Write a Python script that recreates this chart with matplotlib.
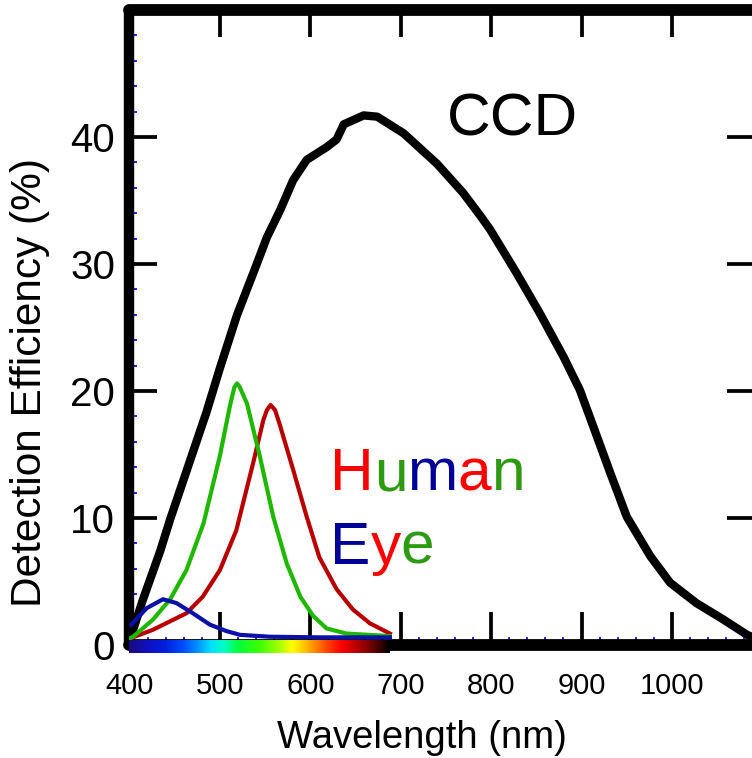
import numpy as np
import matplotlib
matplotlib.use("Agg")
import matplotlib.pyplot as plt
from matplotlib.colors import LinearSegmentedColormap

plt.rcParams['font.family'] = ['Liberation Sans', 'DejaVu Sans']

# ---------------- data ----------------
ccd_wl = [400, 404, 415, 434, 445, 485, 500, 519, 537, 552, 567, 581, 596,
          618, 629, 637, 659, 674, 703, 740, 769, 788, 799, 828, 854, 880, 898,
          913, 932, 950, 976, 998, 1027, 1057, 1083, 1100]
ccd_eff = [0.4, 1.2, 3.6, 7.4, 9.9, 18.3, 21.8, 26.0, 29.3, 32.1, 34.3, 36.6, 38.2,
           39.2, 39.8, 41.0, 41.7, 41.6, 40.3, 37.9, 35.6, 33.8, 32.7, 29.3, 26.1, 22.7, 20.1,
           17.2, 13.5, 10.1, 7.0, 4.9, 3.3, 2.0, 0.8, 0.3]

green_wl = [400, 404, 426, 445, 463, 482, 500, 511, 516, 519, 522, 530, 544, 559,
            574, 589, 603, 618, 640, 688]
green_eff = [0.5, 0.65, 2.0, 3.6, 5.9, 9.6, 14.9, 18.8, 20.3, 20.6, 20.3, 19.0, 14.9, 10.1,
             6.4, 3.8, 2.3, 1.3, 0.9, 0.7]

red_wl = [400, 426, 463, 481, 500, 518, 537, 548, 552, 556, 561, 566, 581, 596,
          610, 629, 647, 666, 688]
red_eff = [0.5, 1.2, 2.5, 3.8, 5.9, 9.0, 14.4, 17.7, 18.5, 18.9, 18.5, 17.4, 13.8, 10.1,
           6.9, 4.4, 2.8, 1.7, 0.9]

blue_wl = [402, 419, 437, 452, 470, 489, 507, 522, 555, 610, 688]
blue_eff = [1.6, 2.9, 3.6, 3.3, 2.5, 1.6, 1.1, 0.8, 0.65, 0.6, 0.6]

spectrum_wl = [400, 420, 440, 460, 475, 490, 505, 520, 545, 565, 580, 595, 607,
               620, 635, 650, 665, 680, 688]
spectrum_colors = ['#1a0a80', '#1010c0', '#0020e0', '#0050ff', '#0090ff', '#00e0ff',
                   '#00ffc0', '#00ff40', '#40ff00', '#a0ff00', '#ffff00', '#ffc000',
                   '#ff8000', '#ff4000', '#ff0000', '#c00000', '#800000', '#300000',
                   '#000000']

xticks = [400, 500, 600, 700, 800, 900, 1000]
yticks = [0, 10, 20, 30, 40]

# ---------------- figure ----------------
fig = plt.figure(figsize=(7.52, 7.58), dpi=100)
ax = fig.add_axes([0.1722, 0.1491, 0.8416, 0.8377])

# spectrum bar
smin, smax = spectrum_wl[0], spectrum_wl[-1]
stops = [((w - smin) / (smax - smin), c) for w, c in zip(spectrum_wl, spectrum_colors)]
cmap = LinearSegmentedColormap.from_list('spec', stops)
grad = np.linspace(0, 1, 400)[None, :]
ax.imshow(grad, extent=[smin, smax, -0.63, 0.39], aspect='auto', cmap=cmap,
          clip_on=False, zorder=4, interpolation='bilinear')

ax.plot(ccd_wl, ccd_eff, color='black', lw=6, solid_capstyle='round',
        solid_joinstyle='round', zorder=3)
ax.plot(red_wl, red_eff, color='#b80000', lw=3, zorder=3,
        solid_joinstyle='round')
ax.plot(green_wl, green_eff, color='#1fb800', lw=3, zorder=3,
        solid_joinstyle='round')
ax.plot(blue_wl, blue_eff, color='#0a10a8', lw=3, zorder=3,
        solid_joinstyle='round')

ax.set_xlim(400, 1100)
ax.set_ylim(0, 50)

ax.set_xticks(xticks)
ax.set_yticks(yticks)
ax.set_xticks(np.arange(420, 1100, 20), minor=True)
ax.set_yticks(np.arange(2, 50, 2), minor=True)

ax.tick_params(axis='both', which='both', direction='in', top=False, right=False)
ax.tick_params(axis='y', which='major', length=19.8, width=2.7, color='black',
               labelsize=29, pad=10.4)
ax.tick_params(axis='x', which='major', length=23.8, width=2.7, color='black',
               labelsize=21, pad=19.5)
ax.tick_params(axis='both', which='minor', length=6, width=1.2, color='blue')

for side in ['left', 'top', 'bottom', 'right']:
    ax.spines[side].set_color('black')
    ax.spines[side].set_capstyle('round')
ax.spines['left'].set_linewidth(7.5)
ax.spines['top'].set_linewidth(8.5)
ax.spines['bottom'].set_linewidth(8.5)
ax.spines['right'].set_linewidth(8.5)

# top ticks
ax_t = ax.twiny()
ax_t.set_xlim(400, 1100)
ax_t.set_xticks([500, 600, 700, 800, 900, 1000])
ax_t.tick_params(axis='x', which='major', direction='in', length=19.4, width=2.7,
                 labeltop=False, top=True, bottom=False)
for sp in ax_t.spines.values():
    sp.set_visible(False)
ax_t.patch.set_visible(False)

# right ticks
ax_r = ax.twinx()
ax_r.set_ylim(0, 50)
ax_r.set_yticks([10, 20, 30, 40])
ax_r.tick_params(axis='y', which='major', direction='in', length=25, width=2.7,
                 labelright=False, right=True, left=False)
for sp in ax_r.spines.values():
    sp.set_visible(False)
ax_r.patch.set_visible(False)

ax.set_xlabel('Wavelength (nm)', fontsize=27.5)
ax.xaxis.set_label_coords(0.4617, -0.118)
ax.set_ylabel('Detection Efficiency (%)', fontsize=30.5)
ax.yaxis.set_label_coords(-0.125, 0.413)

# texts
ax.text(824, 40.1, 'CCD', fontsize=43.5, ha='center', va='baseline', color='black')


def colored_word(x, y, letters, colors, size):
    prev = ax.text(x, y, letters[0], color=colors[0], fontsize=size,
                   ha='left', va='baseline')
    for ch, c in zip(letters[1:], colors[1:]):
        prev = ax.annotate(ch, xy=(1, 0), xycoords=prev, color=c, fontsize=size,
                           ha='left', va='bottom')


RED, GREEN, NAVY = '#ff0000', '#2e9a14', '#000099'
colored_word(621.8, 12.2, 'Human', [RED, GREEN, NAVY, RED, GREEN], 43.5)
colored_word(621.8, 6.4, 'Eye', [NAVY, RED, GREEN], 43.5)

fig.savefig('out.png', dpi=100)
